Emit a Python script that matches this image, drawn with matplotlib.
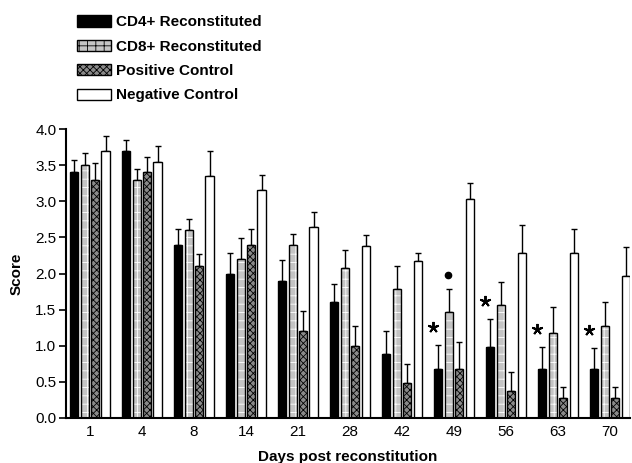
import matplotlib.pyplot as plt
import numpy as np

plt.rcParams['font.family'] = ['Liberation Sans', 'DejaVu Sans']
plt.rcParams['hatch.linewidth'] = 0.6

days = ['1', '4', '8', '14', '21', '28', '42', '49', '56', '63', '70']
series = ['CD4+ Reconstituted', 'CD8+ Reconstituted', 'Positive Control', 'Negative Control']

# mean scores
cd4 = [3.4, 3.7, 2.4, 2.0, 1.9, 1.6, 0.88, 0.68, 0.98, 0.68, 0.68]
cd8 = [3.5, 3.3, 2.6, 2.2, 2.4, 2.08, 1.78, 1.47, 1.57, 1.17, 1.27]
pos = [3.3, 3.4, 2.1, 2.4, 1.2, 0.99, 0.49, 0.68, 0.37, 0.28, 0.28]
neg = [3.7, 3.55, 3.35, 3.15, 2.65, 2.38, 2.18, 3.03, 2.28, 2.28, 1.97]

# upper error (SEM)
cd4_err = [0.17, 0.15, 0.22, 0.29, 0.29, 0.25, 0.32, 0.33, 0.39, 0.30, 0.29]
cd8_err = [0.17, 0.15, 0.16, 0.29, 0.15, 0.24, 0.33, 0.31, 0.31, 0.36, 0.33]
pos_err = [0.23, 0.21, 0.17, 0.21, 0.28, 0.28, 0.26, 0.37, 0.27, 0.15, 0.15]
neg_err = [0.21, 0.22, 0.35, 0.21, 0.20, 0.16, 0.10, 0.22, 0.39, 0.33, 0.40]

star_days = ['49', '56', '63', '70']   # * over CD4 bars
dot_days = ['49']                      # dot over CD8 bar

fig = plt.figure(figsize=(6.32, 4.63), dpi=100)
ax = fig.add_axes([0.1044, 0.0972, 0.892, 0.624])

x = np.arange(len(days))
w = 0.155
offs = [-0.3, -0.1, 0.1, 0.3]
styles = [
    dict(color='black', hatch=None),
    dict(color='#c4c4c4', hatch='++'),
    dict(color='#8a8a8a', hatch='xxxxx'),
    dict(color='white', hatch=None),
]
hatch_edge = ['black', 'white', 'black', 'black']
data = [cd4, cd8, pos, neg]
errs = [cd4_err, cd8_err, pos_err, neg_err]

handles = []
for i in range(4):
    xs = x + offs[i]
    ax.bar(xs, data[i], w, color=styles[i]['color'], hatch=styles[i]['hatch'],
           edgecolor=hatch_edge[i], linewidth=0, zorder=2)
    ax.bar(xs, data[i], w, fill=False, edgecolor='black', linewidth=1.0, zorder=3)
    ax.errorbar(xs, data[i], yerr=[np.zeros(len(days)), errs[i]], fmt='none',
                ecolor='black', elinewidth=1.0, capsize=2, capthick=1.0, zorder=1)
    handles.append(plt.Rectangle((0, 0), 1, 1, facecolor=styles[i]['color'],
                                 hatch=styles[i]['hatch'], edgecolor='black', linewidth=1.0))

for d in star_days:
    k = days.index(d)
    ax.plot(k - 0.4, cd4[k] + cd4_err[k] + 0.25, marker=(5, 2, 0), color='black',
            markersize=8, mew=1.4)
for d in dot_days:
    k = days.index(d)
    ax.plot(k - 0.12, cd8[k] + cd8_err[k] + 0.2, 'o', color='black', markersize=4.5)

ax.set_ylim(0, 4.0)
ax.set_xlim(-0.46, len(days) - 1 + 0.38)
ax.set_yticks(np.arange(0, 4.01, 0.5))
ax.set_yticklabels(['%.1f' % v for v in np.arange(0, 4.01, 0.5)], fontsize=11)
ax.set_xticks(x)
ax.set_xticklabels(days, fontsize=11)
ax.tick_params(axis='x', length=0, pad=5)
ax.tick_params(axis='y', length=5, width=1.2, direction='out', pad=2)
for s in ['top', 'right']:
    ax.spines[s].set_visible(False)
for s in ['left', 'bottom']:
    ax.spines[s].set_linewidth(1.5)

ax.set_ylabel('Score', fontsize=11, fontweight='bold', labelpad=8)
ax.set_xlabel('Days post reconstitution', fontsize=11, fontweight='bold', labelpad=8)

fig.legend(handles, series, loc='upper left', bbox_to_anchor=(0.105, 0.99),
           frameon=False, prop=dict(weight='bold', size=11), handlelength=2.2,
           handleheight=0.75, labelspacing=0.68, handletextpad=0.35, borderpad=0.2)

fig.savefig('out.png', dpi=100)
